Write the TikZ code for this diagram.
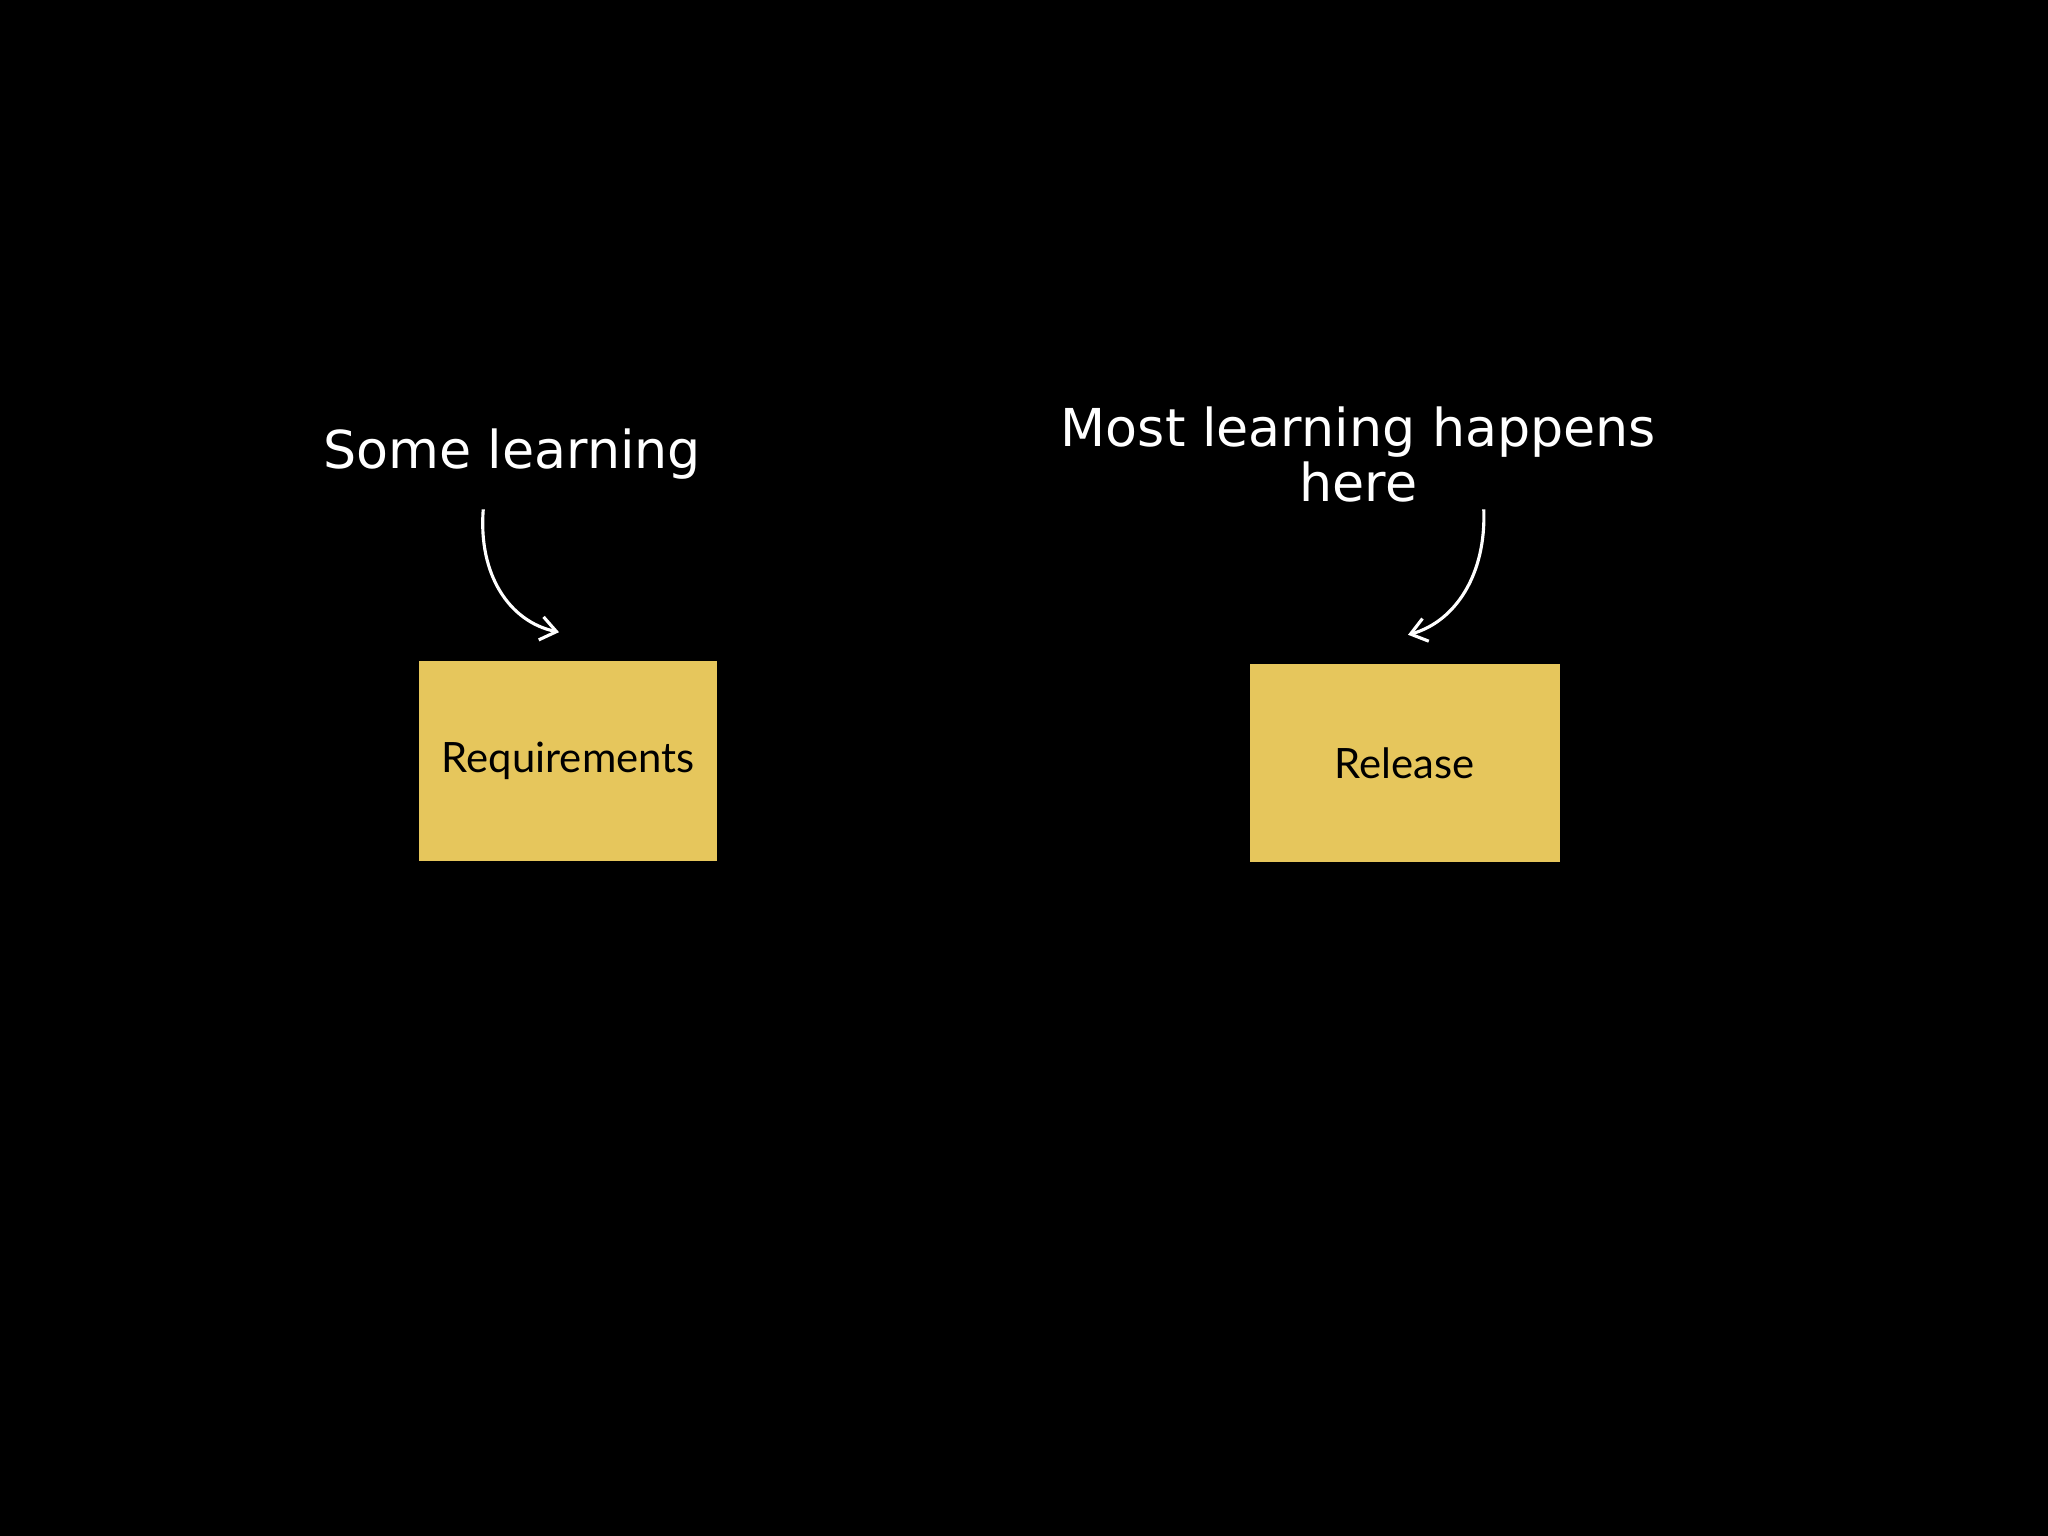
\documentclass[tikz,border=0pt]{standalone}
\usepackage{fontspec}
\setmainfont{DejaVu Sans}
\newfontfamily\boxfont{Lato}
\usetikzlibrary{arrows.meta}
\definecolor{sticky}{HTML}{E6C65C}
\begin{document}
\begin{tikzpicture}[x=0.5pt,y=-0.5pt,
  note/.style={fill=sticky,draw=none,inner sep=0pt,font=\boxfont\fontsize{16}{19}\selectfont,text=black},
  lbl/.style={text=white,font=\fontsize{20}{25}\selectfont,align=center},
  arr/.style={draw=white,line width=1.2pt,-{Straight Barb[length=6pt,width=9pt]}}]
\fill[black] (0,0) rectangle (1568,1176);
\useasboundingbox (0,0) rectangle (1568,1176);
\node[note,minimum width=114pt,minimum height=76.5pt] (req) at (435,582.5) {Requirements};
\node[note,minimum width=118.5pt,minimum height=76pt] (rel) at (1075.5,584) {Release};
\node[lbl] (some) at (392,348) {Some learning};
\node[lbl] (most) at (1040,348) {Most learning happens\\[-4pt]here};
\coordinate (s1) at (370,390);
\coordinate (e1) at (428,484);
\coordinate (s2) at (1136,390);
\coordinate (e2) at (1078,486);
\draw[arr] (s1) .. controls (366,440) and (390,476) .. (e1);
\draw[arr] (s2) .. controls (1138,440) and (1114,476) .. (e2);
\end{tikzpicture}
\end{document}
